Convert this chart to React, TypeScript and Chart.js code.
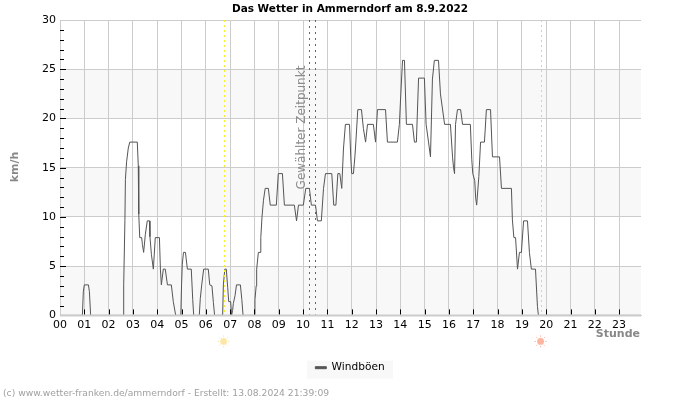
import { useEffect, useRef } from "react";
import { Chart, registerables } from "chart.js";

Chart.register(...registerables);

const FONT = "'DejaVu Sans', sans-serif";

// Wind gusts over the day: hour of day and km/h
const gustHours = [
  0, 0.92, 0.96, 1.0, 1.17, 1.21, 1.26, 2.61, 2.62, 2.67, 2.69, 2.74, 2.81, 2.87, 3.18, 3.22, 3.24, 3.28, 3.36, 3.39,
  3.44, 3.51, 3.59, 3.68, 3.7, 3.76, 3.84, 3.92, 4.09, 4.13, 4.17, 4.25, 4.33, 4.42, 4.58, 4.66, 4.76, 4.97, 5.0, 5.03,
  5.08, 5.16, 5.24, 5.4, 5.46, 5.5, 5.73, 5.77, 5.83, 5.91, 6.1, 6.16, 6.25, 6.31, 6.36, 6.69, 6.72, 6.78, 6.84, 6.9,
  6.94, 7.02, 7.06, 7.1, 7.13, 7.2, 7.26, 7.42, 7.48, 7.53, 8.01, 8.02, 8.07, 8.09, 8.16, 8.23, 8.26, 8.31, 8.37, 8.44,
  8.57, 8.65, 8.9, 8.98, 9.15, 9.23, 9.64, 9.73, 9.81, 10.01, 10.11, 10.26, 10.34, 10.51, 10.59, 10.75, 10.84, 10.92,
  11.18, 11.26, 11.35, 11.43, 11.51, 11.59, 11.66, 11.74, 11.91, 11.96, 12.0, 12.07, 12.13, 12.17, 12.25, 12.4, 12.48,
  12.57, 12.65, 12.89, 12.98, 13.06, 13.39, 13.47, 13.88, 13.96, 14.02, 14.09, 14.17, 14.25, 14.5, 14.58, 14.66, 14.75,
  14.99, 15.06, 15.16, 15.24, 15.32, 15.4, 15.57, 15.65, 15.82, 16.06, 16.15, 16.19, 16.23, 16.27, 16.35, 16.48, 16.56,
  16.88, 16.94, 16.98, 17.06, 17.1, 17.14, 17.23, 17.3, 17.46, 17.54, 17.71, 17.79, 18.08, 18.16, 18.57, 18.61, 18.67,
  18.74, 18.82, 18.9, 18.98, 19.07, 19.23, 19.31, 19.39, 19.56, 19.64, 19.68, 23.9,
];
const gustValues = [
  0, 0, 2.4, 3.1, 3.1, 2.4, 0, 0, 3.1, 9.6, 13.8, 15.6, 17.0, 17.6, 17.6, 15.2, 10.3, 7.9, 7.9, 7.2,
  6.4, 8.2, 9.6, 9.6, 8.0, 6.2, 4.7, 7.9, 7.9, 4.7, 3.1, 4.7, 4.7, 3.1, 3.1, 1.4, 0, 0, 3.1, 5.2,
  6.4, 6.4, 4.7, 4.7, 1.6, 0, 0, 1.7, 3.1, 4.7, 4.7, 3.1, 3.0, 1.3, 0, 0, 3.1, 4.7, 4.7, 2.8,
  1.4, 1.4, 0, 0.5, 1.2, 2.0, 3.1, 3.1, 1.6, 0, 0, 1.6, 3.0, 4.7, 6.4, 6.4, 7.9, 10, 11.7, 12.9,
  12.9, 11.2, 11.2, 14.4, 14.4, 11.2, 11.2, 9.6, 11.2, 11.2, 12.9, 12.9, 11.2, 11.2, 9.6, 9.6, 12.9, 14.4,
  14.4, 11.2, 11.2, 14.4, 14.4, 12.9, 16.9, 19.4, 19.4, 16.1, 14.4, 14.4, 16.1, 17.6, 20.9, 20.9, 19.0,
  17.6, 19.4, 19.4, 17.6, 20.9, 20.9, 17.6, 17.6, 19.4, 22.5, 25.9, 25.9, 19.4, 19.4, 17.6, 17.6, 24.1,
  24.1, 19.4, 17.6, 16.1, 24.0, 25.9, 25.9, 22.5, 19.4, 19.4, 16.0, 15.0, 14.4, 19.4, 20.9, 20.9, 19.4,
  19.4, 15.8, 14.4, 13.7, 11.9, 11.2, 14.1, 17.6, 17.6, 20.9, 20.9, 16.1, 16.1, 12.9, 12.9, 9.7, 7.9,
  7.9, 4.7, 6.4, 6.4, 9.6, 9.6, 6.4, 4.7, 4.7, 0.9, 0, 0,
];
const points = gustHours.map((x, i) => ({ x, y: gustValues[i] }));

const hourTicks = Array.from({ length: 24 }, (_, i) => i);
const bandEdges = [0, 5, 10, 15, 20, 25];
const sunriseHour = 6.75;
const sunsetHour = 19.79;
const selectedHours = [10.26, 10.5];

const sun = (ctx: CanvasRenderingContext2D, x: number, y: number, color: string) => {
  ctx.save();
  ctx.strokeStyle = color;
  ctx.fillStyle = color;
  ctx.lineWidth = 1;
  ctx.beginPath();
  ctx.arc(x, y, 3.4, 0, Math.PI * 2);
  ctx.fill();
  for (let a = 0; a < 8; a++) {
    const t = (a * Math.PI) / 4;
    ctx.beginPath();
    ctx.moveTo(x + Math.cos(t) * 4.6, y + Math.sin(t) * 4.6);
    ctx.lineTo(x + Math.cos(t) * 6, y + Math.sin(t) * 6);
    ctx.stroke();
  }
  ctx.restore();
};

const decorations = {
  id: "decorations",
  beforeDraw(chart: any) {
    const { ctx, chartArea: a, scales, legend } = chart;
    ctx.save();
    ctx.fillStyle = "#f8f8f8";
    for (const v of bandEdges.filter((_, i) => i % 2 === 0)) {
      const top = scales.y.getPixelForValue(v + 5);
      ctx.fillRect(a.left, top, a.width, scales.y.getPixelForValue(v) - top);
    }
    ctx.fillRect(legend.left + legend.width / 2 - 43, legend.top + legend.height / 2 - 9, 86, 18);
    ctx.restore();
  },
  afterDatasetsDraw(chart: any) {
    const { ctx, chartArea: a, scales } = chart;
    ctx.save();
    // Base line over the zero stretches of the series
    ctx.strokeStyle = "#cccccc";
    ctx.lineWidth = 2;
    ctx.beginPath();
    ctx.moveTo(a.left, a.bottom);
    ctx.lineTo(a.right, a.bottom);
    ctx.stroke();
    ctx.lineWidth = 1;

    // Inward tick marks
    ctx.strokeStyle = "#000000";
    ctx.beginPath();
    for (const h of hourTicks.slice(1)) {
      const x = Math.round(scales.x.getPixelForValue(h)) + 0.5;
      ctx.moveTo(x, a.bottom - 1);
      ctx.lineTo(x, a.bottom - 6);
    }
    for (let v = 1; v < 30; v++) {
      const y = Math.round(scales.y.getPixelForValue(v)) + 0.5;
      ctx.moveTo(a.left, y);
      ctx.lineTo(a.left + (v % 5 === 0 ? 6 : 4), y);
    }
    ctx.stroke();

    // Sunrise, sunset and the selected time
    const vline = (h: number, color: string, dash: number[]) => {
      const x = Math.round(scales.x.getPixelForValue(h)) + 0.5;
      ctx.strokeStyle = color;
      ctx.setLineDash(dash);
      ctx.beginPath();
      ctx.moveTo(x, a.top);
      ctx.lineTo(x, a.bottom - 1);
      ctx.stroke();
    };
    vline(sunriseHour, "#f8ee2c", [2, 3]);
    vline(sunsetHour, "#f4c98a", [2, 3]);
    selectedHours.forEach((h) => vline(h, "#666666", [2, 4]));
    ctx.setLineDash([]);

    ctx.save();
    ctx.translate(scales.x.getPixelForValue(selectedHours[0]) - 7.5, 127.5);
    ctx.rotate(-Math.PI / 2);
    ctx.font = `12px ${FONT}`;
    ctx.fillStyle = "#8c8c8c";
    ctx.textAlign = "center";
    ctx.textBaseline = "middle";
    ctx.fillText("Gewählter Zeitpunkt", 0, 0);
    ctx.restore();

    sun(ctx, scales.x.getPixelForValue(sunriseHour) - 0.5, a.bottom + 26, "#fde7a8");
    sun(ctx, scales.x.getPixelForValue(sunsetHour) - 0.5, a.bottom + 26, "#fdb4a0");

    // Unit captions and the credit line
    ctx.font = `bold 11px ${FONT}`;
    ctx.fillStyle = "#888888";
    ctx.textAlign = "right";
    ctx.textBaseline = "middle";
    ctx.fillText("Stunde", a.right - 1, 334);
    ctx.save();
    ctx.translate(15.5, 167);
    ctx.rotate(-Math.PI / 2);
    ctx.textAlign = "center";
    ctx.fillText("km/h", 0, 0);
    ctx.restore();
    ctx.font = `9.2px ${FONT}`;
    ctx.fillStyle = "#a0a0a0";
    ctx.textAlign = "left";
    ctx.fillText("(c) www.wetter-franken.de/ammerndorf - Erstellt: 13.08.2024 21:39:09", 3, 393.5);
    ctx.restore();
  },
};

export default function App() {
  const ref = useRef<HTMLCanvasElement>(null);

  useEffect(() => {
    const chart = new Chart(ref.current!, {
      type: "line",
      plugins: [decorations],
      data: {
        datasets: [
          {
            label: "Windböen",
            data: points,
            borderColor: "#555555",
            backgroundColor: "#555555",
            borderWidth: 1,
            pointRadius: 0,
            tension: 0,
            fill: false,
          },
        ],
      },
      options: {
        animation: false,
        responsive: false,
        layout: { padding: { left: 0, right: 0, top: 0, bottom: 17 } },
        plugins: {
          tooltip: { enabled: false },
          title: {
            display: true,
            text: "Das Wetter in Ammerndorf am 8.9.2022",
            color: "#000000",
            font: { family: FONT, size: 10.5, weight: "bold", lineHeight: 1.2 },
            padding: { top: 3, bottom: 4.4 },
          },
          legend: {
            position: "bottom",
            labels: {
              color: "#000000",
              font: { family: FONT, size: 10.6 },
              boxWidth: 11,
              boxHeight: 2,
              padding: 6,
            },
          },
        },
        scales: {
          x: {
            type: "linear",
            min: 0,
            max: 23.9,
            afterBuildTicks: (s: any) => {
              s.ticks = hourTicks.map((value) => ({ value }));
            },
            afterFit: (s: any) => {
              s.height = 41;
            },
            border: { color: "#cccccc" },
            grid: { color: "#cccccc", drawTicks: false },
            ticks: {
              color: "#000000",
              font: { family: FONT, size: 11 },
              padding: 3,
              autoSkip: false,
              maxRotation: 0,
              callback: (v: any) => String(v).padStart(2, "0"),
            },
          },
          y: {
            min: 0,
            max: 30,
            afterFit: (s: any) => {
              s.width = 60;
            },
            border: { color: "#cccccc" },
            grid: { color: "#cccccc", drawTicks: false },
            ticks: {
              stepSize: 5,
              color: "#000000",
              font: { family: FONT, size: 11 },
              padding: 4,
            },
          },
          // Empty axis that reserves the margin right of the plot
          margin: {
            position: "right",
            min: 0,
            max: 30,
            afterFit: (s: any) => {
              s.width = 59;
            },
            border: { display: false },
            grid: { display: false },
            ticks: { display: false },
          },
        },
      },
    });
    return () => chart.destroy();
  }, []);

  return (
    <div style={{ position: "absolute", left: 0, top: 0, width: 700, height: 400, background: "#fff" }}>
      <canvas ref={ref} width={700} height={400} style={{ display: "block" }} />
    </div>
  );
}
